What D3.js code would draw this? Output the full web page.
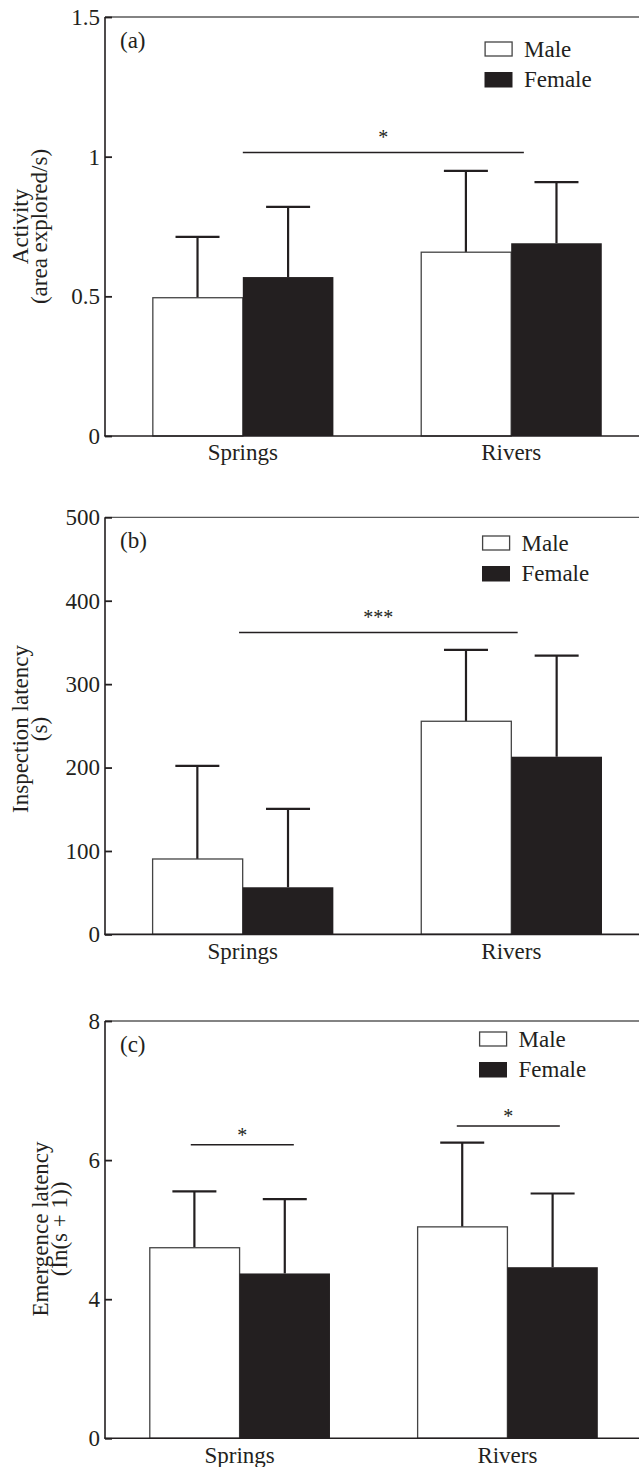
<!DOCTYPE html>
<html><head><meta charset="utf-8">
<script src="https://cdn.jsdelivr.net/npm/d3@7"></script>
<style>
body{margin:0;background:#fff}
svg{display:block}
text{font-family:"Liberation Serif","Times New Roman",serif;fill:#231f20}
</style>
</head><body>
<svg id="chart" width="639" height="1467"></svg>
<script>
// ---------- DATA ----------
const categories = ["Springs", "Rivers"];
const sexes = ["Male", "Female"];

// (a) Activity (area explored/s)
const activityMale = [0.495, 0.658];
const activityFemale = [0.569, 0.690];
const activityMaleUpper = [0.713, 0.949];
const activityFemaleUpper = [0.820, 0.909];
const activityTicks = [0, 0.5, 1, 1.5];
const activityTickLabels = ["0", "0.5", "1", "1.5"];

// (b) Inspection latency (s)
const inspectionMale = [90.4, 255.5];
const inspectionFemale = [56.5, 213];
const inspectionMaleUpper = [202, 341];
const inspectionFemaleUpper = [150.4, 334.2];
const inspectionTicks = [0, 100, 200, 300, 400, 500];
const inspectionTickLabels = ["0", "100", "200", "300", "400", "500"];

// (c) Emergence latency (ln(s+1)) – axis is broken between 0 and 4
const emergenceMale = [4.74, 5.04];
const emergenceFemale = [4.37, 4.46];
const emergenceMaleUpper = [5.55, 6.25];
const emergenceFemaleUpper = [5.44, 5.52];
const emergenceTicks = [0, 4, 6, 8];
const emergenceTickLabels = ["0", "4", "6", "8"];

// significance annotations
const activitySig = [{from: "Springs", fromFrac: 0.5, to: "Rivers", toFrac: 0.57, y: 1.015, label: "*"}];
const inspectionSig = [{from: "Springs", fromFrac: 0.48, to: "Rivers", toFrac: 0.535, y: 362, label: "***"}];
const emergenceSig = [
  {from: "Springs", fromFrac: 0.23, to: "Springs", toFrac: 0.80, y: 6.22, label: "*"},
  {from: "Rivers", fromFrac: 0.22, to: "Rivers", toFrac: 0.79, y: 6.49, label: "*"}
];

// ---------- LAYOUT ----------
const W = 639;
const FS = 23;
const INK = "#231f20";
const svg = d3.select("#chart");

const panels = [
  {tag: "(a)", top: 17, bottom: 436, xr: [105, 649], po: 0.176,
   yDomain: [0, 1.5], ticks: activityTicks, tickLabels: activityTickLabels,
   male: activityMale, female: activityFemale, maleUp: activityMaleUpper, femaleUp: activityFemaleUpper,
   title: ["Activity", "(area explored/s)"], titleX: [28, 47.3], titleY: 226.5,
   legX: 484.5, legY: 57, sig: activitySig, starOff: 8},
  {tag: "(b)", top: 517.3, bottom: 934.4, xr: [105, 649], po: 0.175,
   yDomain: [0, 500], ticks: inspectionTicks, tickLabels: inspectionTickLabels,
   male: inspectionMale, female: inspectionFemale, maleUp: inspectionMaleUpper, femaleUp: inspectionFemaleUpper,
   title: ["Inspection latency", "(s)"], titleX: [28.3, 47], titleY: 729,
   legX: 482, legY: 551, sig: inspectionSig, starOff: 8},
  {tag: "(c)", top: 1021, bottom: 1438.3, xr: [105, 642], po: 0.165,
   yDomain: [0, 4, 8], broken: true, ticks: emergenceTicks, tickLabels: emergenceTickLabels,
   male: emergenceMale, female: emergenceFemale, maleUp: emergenceMaleUpper, femaleUp: emergenceFemaleUpper,
   title: ["Emergence latency", "(In(s + 1))"], titleX: [48.3, 67.3], titleY: 1229,
   legX: 479, legY: 1047, sig: emergenceSig, starOff: 3}
];

panels.forEach(p => {
  const g = svg.append("g");
  const h = p.bottom - p.top;
  const y = p.broken
    ? d3.scaleLinear().domain(p.yDomain).range([p.bottom, p.bottom - h / 3, p.top])
    : d3.scaleLinear().domain(p.yDomain).range([p.bottom, p.top]);
  const x0 = d3.scaleBand().domain(categories).range(p.xr).paddingInner(0.325).paddingOuter(p.po);
  const x1 = d3.scaleBand().domain(sexes).range([0, x0.bandwidth()]).padding(0);

  // frame: top line
  g.append("line").attr("x1", 105).attr("x2", W).attr("y1", p.top).attr("y2", p.top)
    .attr("stroke", "#5a5a5a").attr("stroke-width", 1.3);

  // bars
  const rows = categories.map((c, i) => ({
    cat: c,
    vals: [
      {sex: "Male", v: p.male[i], up: p.maleUp[i]},
      {sex: "Female", v: p.female[i], up: p.femaleUp[i]}
    ]
  }));
  const grp = g.selectAll(".grp").data(rows).join("g")
    .attr("transform", d => `translate(${x0(d.cat)},0)`);

  // error bars
  grp.selectAll(".err").data(d => d.vals).join("g").each(function(d) {
    const cx = x1(d.sex) + x1.bandwidth() / 2;
    const e = d3.select(this);
    e.append("line").attr("x1", cx).attr("x2", cx).attr("y1", y(d.v)).attr("y2", y(d.up))
      .attr("stroke", INK).attr("stroke-width", 2.2);
    e.append("line").attr("x1", cx - 22).attr("x2", cx + 22).attr("y1", y(d.up)).attr("y2", y(d.up))
      .attr("stroke", INK).attr("stroke-width", 2.2);
  });

  grp.selectAll("rect").data(d => d.vals).join("rect")
    .attr("x", d => x1(d.sex) + (d.sex === "Male" ? 0.6 : 0))
    .attr("width", d => x1.bandwidth() - (d.sex === "Male" ? 0.6 : 0))
    .attr("y", d => y(d.v))
    .attr("height", d => y(p.yDomain[0]) - y(d.v))
    .attr("fill", d => d.sex === "Male" ? "#fff" : INK)
    .attr("stroke", d => d.sex === "Male" ? "#444" : "none")
    .attr("stroke-width", 1.3);

  // y axis
  const yAxis = d3.axisLeft(y).tickValues(p.ticks)
    .tickFormat((d, i) => p.tickLabels[i]).tickSize(-7).tickPadding(5);
  const ya = g.append("g").attr("transform", "translate(105,0)").call(yAxis);
  ya.select(".domain").remove();
  ya.selectAll(".tick line").attr("stroke", INK).attr("stroke-width", 1.8);
  ya.selectAll(".tick text").attr("font-size", FS).attr("fill", INK);

  g.append("line").attr("x1", 105).attr("x2", 105).attr("y1", p.top).attr("y2", p.bottom)
    .attr("stroke", INK).attr("stroke-width", 1.6);
  g.append("line").attr("x1", 104.2).attr("x2", W).attr("y1", p.bottom).attr("y2", p.bottom)
    .attr("stroke", INK).attr("stroke-width", 1.6);

  // x axis labels
  const xa = g.append("g").attr("transform", `translate(0,${p.bottom})`)
    .call(d3.axisBottom(x0).tickSize(0).tickPadding(8));
  xa.select(".domain").remove();
  xa.selectAll(".tick text").attr("font-size", FS).attr("fill", INK);

  // panel tag
  g.append("text").attr("x", 120).attr("y", p.top + 31).attr("font-size", FS).text(p.tag);

  // y title
  p.title.forEach((t, i) => {
    g.append("text").attr("transform", `translate(${p.titleX[i]},${p.titleY}) rotate(-90)`)
      .attr("text-anchor", "middle").attr("font-size", FS).text(t);
  });

  // legend
  const leg = g.append("g");
  sexes.forEach((s, i) => {
    const by = p.legY + i * 30;
    leg.append("rect").attr("x", p.legX + (s === "Male" ? 0.6 : 0)).attr("y", by - 15)
      .attr("width", s === "Male" ? 27 : 28).attr("height", s === "Male" ? 14 : 15.5)
      .attr("fill", s === "Male" ? "#fff" : INK)
      .attr("stroke", s === "Male" ? "#444" : "none").attr("stroke-width", 1.3);
    leg.append("text").attr("x", p.legX + 39.5).attr("y", by).attr("font-size", FS).text(s);
  });

  // significance
  p.sig.forEach(s => {
    const xa1 = x0(s.from) + x0.bandwidth() * s.fromFrac;
    const xa2 = x0(s.to) + x0.bandwidth() * s.toFrac;
    const yy = y(s.y);
    g.append("line").attr("x1", xa1).attr("x2", xa2).attr("y1", yy).attr("y2", yy)
      .attr("stroke", INK).attr("stroke-width", 1.5);
    g.append("text").attr("x", (xa1 + xa2) / 2).attr("y", yy - p.starOff)
      .attr("text-anchor", "middle").attr("font-size", 20).text(s.label);
  });
});
</script>
</body></html>
